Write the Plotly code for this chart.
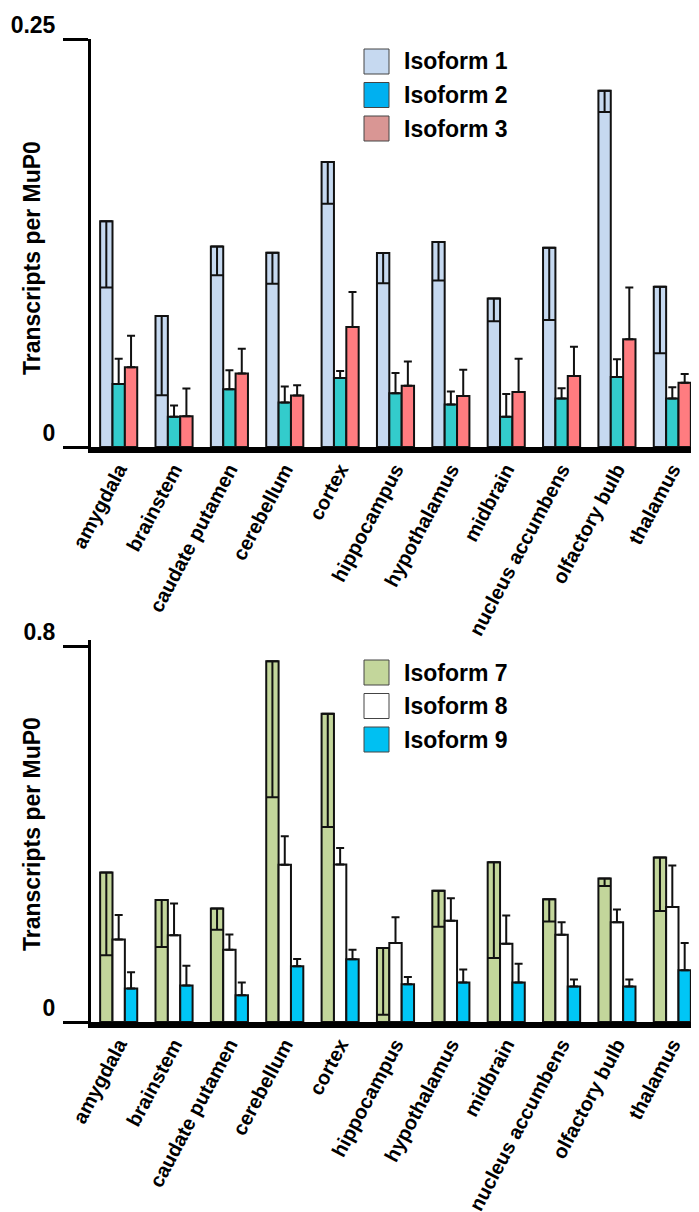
import plotly.graph_objects as go

# ---------------- data ----------------
categories = ["amygdala", "brainstem", "caudate putamen", "cerebellum", "cortex",
              "hippocampus", "hypothalamus", "midbrain", "nucleus accumbens",
              "olfactory bulb", "thalamus"]

top_names = ["Isoform 1", "Isoform 2", "Isoform 3"]
iso1 = [0.1384, 0.0803, 0.1228, 0.1191, 0.1746, 0.1189, 0.1256, 0.0910, 0.1221, 0.2183, 0.0982]
iso1_err = [0.0407, 0.0486, 0.0175, 0.0191, 0.0256, 0.0185, 0.0236, 0.0140, 0.0443, 0.0130, 0.0407]
iso2 = [0.0386, 0.0185, 0.0354, 0.0272, 0.0423, 0.0329, 0.0260, 0.0185, 0.0297, 0.0429, 0.0297]
iso2_err = [0.0155, 0.0069, 0.0117, 0.0098, 0.0042, 0.0124, 0.0080, 0.0140, 0.0063, 0.0108, 0.0069]
iso3 = [0.0488, 0.0189, 0.0451, 0.0315, 0.0736, 0.0376, 0.0313, 0.0337, 0.0435, 0.0660, 0.0394]
iso3_err = [0.0193, 0.0169, 0.0151, 0.0063, 0.0213, 0.0148, 0.0161, 0.0204, 0.0179, 0.0317, 0.0053]

bottom_names = ["Isoform 7", "Isoform 8", "Isoform 9"]
iso7 = [0.3180, 0.2597, 0.2413, 0.7676, 0.6561, 0.1573, 0.2794, 0.3400, 0.2610, 0.3055, 0.3499]
iso7_err = [0.1762, 0.1003, 0.0452, 0.2893, 0.2413, 0.1418, 0.0769, 0.2039, 0.0472, 0.0162, 0.1135]
iso8 = [0.1757, 0.1848, 0.1538, 0.3344, 0.3351, 0.1679, 0.2152, 0.1665, 0.1856, 0.2123, 0.2448]
iso8_err = [0.0522, 0.0671, 0.0324, 0.0607, 0.0353, 0.0550, 0.0479, 0.0600, 0.0267, 0.0269, 0.0882]
iso9 = [0.0713, 0.0776, 0.0571, 0.1185, 0.1333, 0.0804, 0.0839, 0.0839, 0.0755, 0.0755, 0.1101]
iso9_err = [0.0345, 0.0423, 0.0268, 0.0155, 0.0205, 0.0155, 0.0276, 0.0403, 0.0148, 0.0148, 0.0578]

top_ticks = [0, 0.25]
top_ticktext = ["0", "0.25"]
bottom_ticks = [0, 0.8]
bottom_ticktext = ["0", "0.8"]
y_title = "Transcripts per MuP0"

# ---------------- styling ----------------
W, H = 699, 1212
L, R = 83, 7
PW = W - L - R
FONT = "Liberation Sans, Arial, sans-serif"

top_bar_colors = ["#c6d9f0", "#33cccc", "#ff7c80"]
top_legend_colors = ["#c6d9f0", "#00b0f0", "#d99694"]
bottom_bar_colors = ["#c3d69b", "#ffffff", "#00c6f6"]
bottom_legend_colors = ["#c3d69b", "#ffffff", "#00c0f2"]


def py(px):
    return 1 - px / H


def pxx(px):
    return (px - L) / PW


fig = go.Figure()


def add_bar(vals, errs, name, color, xa, ya, inside):
    n = len(errs)
    if inside:
        ey = dict(type="data", symmetric=False, array=[0] * n, arrayminus=errs,
                  color="#111111", thickness=2, width=6)
    else:
        ey = dict(type="data", symmetric=False, array=errs, arrayminus=[0] * n,
                  color="#111111", thickness=2, width=4)
    fig.add_trace(go.Bar(
        x=categories, y=vals, name=name, xaxis=xa, yaxis=ya,
        marker=dict(color=color, line=dict(color="#111111", width=2)),
        error_y=ey, showlegend=False))


top_vals = [(iso1, iso1_err), (iso2, iso2_err), (iso3, iso3_err)]
for i, (v, e) in enumerate(top_vals):
    add_bar(v, e, top_names[i], top_bar_colors[i], "x", "y", i == 0)

bot_vals = [(iso7, iso7_err), (iso8, iso8_err), (iso9, iso9_err)]
for i, (v, e) in enumerate(bot_vals):
    add_bar(v, e, bottom_names[i], bottom_bar_colors[i], "x2", "y2", i == 0)

# panel geometry (pixels)
top_T, top_B = 31, 439
bot_T, bot_B, bot_tick = 632, 1014, 638
bot_max = 0.8 * (bot_B - bot_T) / (bot_B - bot_tick)

xaxis_common = dict(
    type="category", range=[-0.5, 10.5], showline=True, linewidth=6, linecolor="black",
    ticks="", tickangle=-62, showgrid=False, zeroline=False, automargin=False,
    tickfont=dict(family=FONT, size=20, color="black", weight="bold"),
    ticklabelstandoff=-3, domain=[0, 1])
yaxis_common = dict(
    showline=True, linewidth=3, linecolor="black", ticks="outside", ticklen=25,
    tickwidth=3, tickcolor="black", showgrid=False, zeroline=False, automargin=False,
    tickfont=dict(family=FONT, size=23, color="black", weight="bold"),
    ticklabelshift=-14, ticklabelstandoff=3)

fig.update_layout(
    width=W, height=H, margin=dict(l=L, r=R, t=0, b=0),
    paper_bgcolor="white", plot_bgcolor="white",
    barmode="group", bargap=0.33, bargroupgap=0,
    xaxis=dict(xaxis_common, anchor="y"),
    xaxis2=dict(xaxis_common, anchor="y2"),
    yaxis=dict(yaxis_common, anchor="x", domain=[py(top_B), py(top_T)], range=[0, 0.25],
               tickvals=top_ticks, ticktext=top_ticktext),
    yaxis2=dict(yaxis_common, anchor="x2", domain=[py(bot_B), py(bot_T)], range=[0, bot_max],
                tickvals=bottom_ticks, ticktext=bottom_ticktext),
    font=dict(family=FONT, color="black"),
)

# y axis titles
for yc in [250, (bot_tick + bot_B) / 2]:
    fig.add_annotation(text=y_title, textangle=-90, xref="paper", yref="paper",
                       x=pxx(24), y=py(yc), xanchor="center", yanchor="middle",
                       showarrow=False,
                       font=dict(family=FONT, size=23, color="black", weight="bold"))

# legends (swatch + label)
def legend(names, colors, y0):
    for i, (nm, c) in enumerate(zip(names, colors)):
        top = y0 + i * 33.5
        fig.add_shape(type="rect", xref="paper", yref="paper",
                      x0=pxx(356), x1=pxx(381), y0=py(top), y1=py(top + 25),
                      fillcolor=c, line=dict(color="#444444", width=1))
        fig.add_annotation(text=nm, xref="paper", yref="paper", x=pxx(394),
                           y=py(top + 12.5), xanchor="left", yanchor="middle",
                           showarrow=False,
                           font=dict(family=FONT, size=23, color="black", weight="bold"))


legend(top_names, top_legend_colors, 41)
legend(bottom_names, bottom_legend_colors, 652)

fig.write_html("out.html")
